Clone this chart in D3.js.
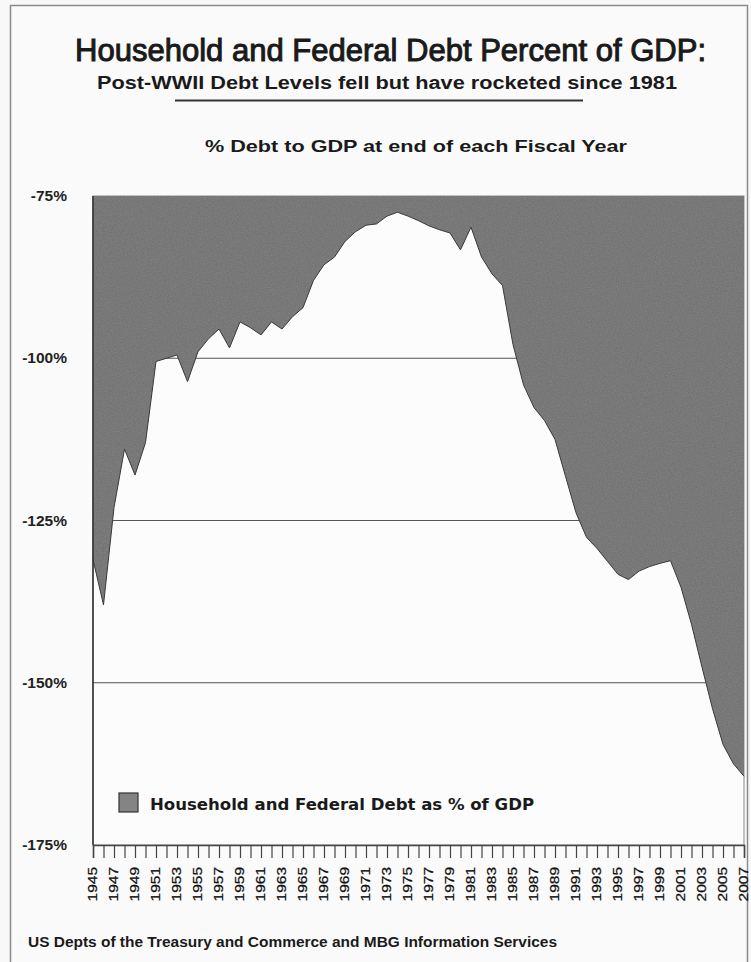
<!DOCTYPE html>
<html>
<head>
<meta charset="utf-8">
<script src="https://cdn.jsdelivr.net/npm/d3@7"></script>
<style>
  html, body { margin: 0; padding: 0; background: #f8f8f8; }
  svg { display: block; }
</style>
</head>
<body>
<div id="chart"></div>
<script>
// ---- Data ----
const years = d3.range(1945, 2008);
const debtPct = [
  -131, -138, -123, -114, -118, -113, -100.5, -100, -99.5, -103.6,
  -99, -97, -95.5, -98.4, -94.4, -95.3, -96.4, -94.4, -95.5, -93.6,
  -92.2, -88, -85.6, -84.4, -82, -80.5, -79.5, -79.3, -78.1, -77.5,
  -78.1, -78.8, -79.6, -80.2, -80.7, -83.3, -79.8, -84.4, -87, -88.8,
  -97.9, -104.1, -107.6, -109.6, -112.5, -118.2, -123.8, -127.6, -129.3, -131.3,
  -133.3, -134.1, -132.8, -132.1, -131.6, -131.2, -135.3, -141, -147.6, -154,
  -159.5, -162.5, -164.4
];
const yTicks = [-75, -100, -125, -150, -175];
const gridValues = [-100, -125, -150];
const xLabelYears = years.filter(d => (d - 1945) % 2 === 0);

const titleText = "Household and Federal Debt Percent of GDP:";
const subtitleText = "Post-WWII Debt Levels fell but have rocketed since 1981";
const axisTitleText = "% Debt to GDP at end of each Fiscal Year";
const legendText = "Household and Federal Debt as % of GDP";
const sourceText = "US Depts of the Treasury and Commerce and MBG Information Services";

// ---- Layout ----
const W = 751, H = 962;
const plot = { left: 93, right: 744, top: 196, bottom: 845 };
const font = "'Liberation Sans', Arial, sans-serif";

const svg = d3.select("#chart").append("svg")
  .attr("width", W).attr("height", H);

svg.append("rect").attr("width", W).attr("height", H).attr("fill", "#f8f8f8");
// outer frame
svg.append("rect").attr("x", 10.5).attr("y", 5.5).attr("width", 737).attr("height", 980)
  .attr("fill", "#fafafa").attr("stroke", "#8a8a8a").attr("stroke-width", 1.5);

const x = d3.scalePoint().domain(years).range([plot.left, plot.right]);
const y = d3.scaleLinear().domain([-175, -75]).range([plot.bottom, plot.top]);

// plot background
svg.append("rect")
  .attr("x", plot.left).attr("y", plot.top)
  .attr("width", plot.right - plot.left).attr("height", plot.bottom - plot.top)
  .attr("fill", "#fcfcfc").attr("stroke", "#888").attr("stroke-width", 1);

// gridlines
svg.append("g").selectAll("line").data(gridValues).join("line")
  .attr("x1", plot.left).attr("x2", plot.right)
  .attr("y1", d => y(d)).attr("y2", d => y(d))
  .attr("stroke", "#555").attr("stroke-width", 1.2);

const series = years.map((yr, i) => ({ year: yr, v: debtPct[i] }));

// noise texture filter for the fill
const defs = svg.append("defs");
const filt = defs.append("filter").attr("id", "grain").attr("x", 0).attr("y", 0).attr("width", 1).attr("height", 1);
filt.append("feTurbulence").attr("type", "fractalNoise").attr("baseFrequency", 0.8).attr("numOctaves", 2).attr("seed", 3).attr("result", "noise");
filt.append("feColorMatrix").attr("in", "noise").attr("type", "matrix")
  .attr("values", "0 0 0 0 0  0 0 0 0 0  0 0 0 0 0  0 0 0 0.35 0").attr("result", "dark");
filt.append("feComposite").attr("in", "dark").attr("in2", "SourceGraphic").attr("operator", "in").attr("result", "darkIn");
filt.append("feMerge").selectAll("feMergeNode").data(["SourceGraphic", "darkIn"]).join("feMergeNode").attr("in", d => d);

const area = d3.area()
  .x(d => x(d.year))
  .y0(y(-75))
  .y1(d => y(d.v));

svg.append("path").datum(series)
  .attr("d", area)
  .attr("fill", "#848484")
  .attr("filter", "url(#grain)");

const line = d3.line().x(d => x(d.year)).y(d => y(d.v));
svg.append("path").datum(series)
  .attr("d", line)
  .attr("fill", "none").attr("stroke", "#3a3a3a").attr("stroke-width", 1);

// left axis line
svg.append("line").attr("x1", plot.left).attr("x2", plot.left)
  .attr("y1", plot.top).attr("y2", plot.bottom)
  .attr("stroke", "#333").attr("stroke-width", 1.6);

// y labels
svg.append("g").selectAll("text").data(yTicks).join("text")
  .attr("x", 67).attr("y", d => y(d) + 5)
  .attr("text-anchor", "end")
  .attr("font-family", font).attr("font-weight", "bold").attr("font-size", 15.5)
  .attr("fill", "#222")
  .text(d => d + "%");

// bottom axis with ticks
const xAxis = d3.axisBottom(x).tickSize(13).tickFormat("");
const gx = svg.append("g").attr("transform", `translate(0,${plot.bottom})`).call(xAxis);
gx.select(".domain").attr("stroke", "#444").attr("stroke-width", 1.5);
gx.selectAll(".tick line").attr("stroke", "#444").attr("stroke-width", 1.2);

// rotated year labels
svg.append("g").selectAll("text").data(xLabelYears).join("text")
  .attr("transform", d => `translate(${x(d)},867) rotate(-90) scale(1,0.82)`)
  .attr("text-anchor", "end").attr("dy", "0.35em")
  .attr("font-family", font).attr("font-size", 15.5)
  .attr("fill", "#111").attr("stroke", "#111").attr("stroke-width", 0.3)
  .text(d => d);

// titles
function fitText(sel, width) {
  sel.attr("textLength", width).attr("lengthAdjust", "spacingAndGlyphs");
  return sel;
}
fitText(svg.append("text").attr("x", 75).attr("y", 61)
  .attr("font-family", font).attr("font-size", 31)
  .attr("fill", "#1a1a1a").attr("stroke", "#1a1a1a").attr("stroke-width", 1)
  .text(titleText), 631);

fitText(svg.append("text").attr("x", 97).attr("y", 89)
  .attr("font-family", font).attr("font-weight", "bold").attr("font-size", 17.5)
  .attr("fill", "#1a1a1a").text(subtitleText), 580);

svg.append("line").attr("x1", 175).attr("x2", 583).attr("y1", 100.5).attr("y2", 100.5)
  .attr("stroke", "#333").attr("stroke-width", 2);

fitText(svg.append("text").attr("x", 205).attr("y", 152)
  .attr("font-family", font).attr("font-weight", "bold").attr("font-size", 17)
  .attr("fill", "#1a1a1a").text(axisTitleText), 422);

// legend
svg.append("rect").attr("x", 119).attr("y", 793).attr("width", 19).attr("height", 19)
  .attr("fill", "#848484").attr("stroke", "#333").attr("stroke-width", 1.2);
fitText(svg.append("text").attr("x", 150).attr("y", 810)
  .attr("font-family", "'DejaVu Sans', Verdana, sans-serif").attr("font-weight", "bold").attr("font-size", 16)
  .attr("fill", "#1a1a1a").text(legendText), 384);

// source
fitText(svg.append("text").attr("x", 28).attr("y", 947)
  .attr("font-family", font).attr("font-weight", "bold").attr("font-size", 14)
  .attr("fill", "#1a1a1a").text(sourceText), 529);
</script>
</body>
</html>
